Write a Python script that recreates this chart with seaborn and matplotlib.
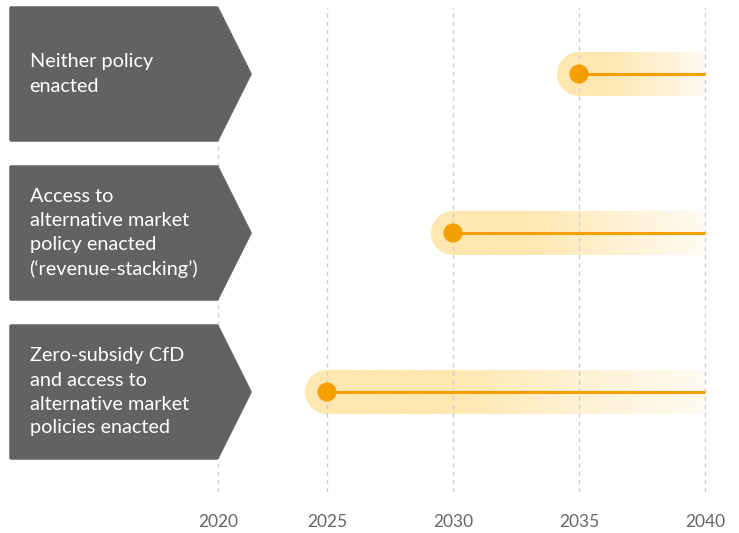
import numpy as np
import matplotlib
matplotlib.use("Agg")
import matplotlib.pyplot as plt
from matplotlib.patches import Polygon
from matplotlib.colors import to_rgb
import seaborn as sns
import pandas as pd

# 数据
scenarios = [
    "Neither policy\nenacted",
    "Access to\nalternative market\npolicy enacted\n(\u2018revenue-stacking\u2019)",
    "Zero-subsidy CfD\nand access to\nalternative market\npolicies enacted",
]
start_year = [2035, 2030, 2025]
end_year = 2040
tick_years = [2020, 2025, 2030, 2035, 2040]

sns.set_theme(style="white")
plt.rcParams["font.family"] = ["Lato", "DejaVu Sans"]

W, H = 739, 533
fig = plt.figure(figsize=(W / 100, H / 100), dpi=100)

# 像素布局
row_y = [74, 233, 392]
px_per_year = 25.2
x0_year = 2025 - 327 / px_per_year
x1_year = 2025 + (W - 327) / px_per_year
ax_top, ax_bot = 7, 492

ax = fig.add_axes([0, (H - ax_bot) / H, 1, (ax_bot - ax_top) / H])
ax.set_xlim(x0_year, x1_year)
ax.set_ylim(ax_bot, ax_top)

# 2020 刻度在图中并不等距
tick_pos = [x0_year + 218 / px_per_year] + tick_years[1:]
ax.set_xticks(tick_pos)
ax.set_xticklabels([str(t) for t in tick_years], fontsize=12.5, color="#666666")
ax.tick_params(axis="x", length=0, pad=15.5)
ax.set_yticks([])
for s in ax.spines.values():
    s.set_visible(False)
ax.grid(axis="x", color="#cccccc", linestyle=(0, (3, 3)), linewidth=1, zorder=1.5)
ax.grid(axis="y", visible=False)
ax.set_axisbelow(False)

orange = "#F5A000"
band_rgb = np.array(to_rgb("#FFE7B0"))
half_h = 22
r_year = half_h / px_per_year

for yc, sy in zip(row_y, start_year):
    # 渐变底带
    n = 300
    t = np.linspace(0, 1, n)
    alpha = np.clip(1 - (t - 0.35) / 0.65 * 0.85, 0.15, 1)
    img = np.zeros((2, n, 4))
    img[..., :3] = band_rgb
    img[..., 3] = alpha
    xl = sy - r_year
    im = ax.imshow(img, extent=[xl, end_year, yc + half_h, yc - half_h],
                   aspect="auto", interpolation="bilinear", zorder=0.3)
    ang = np.linspace(np.pi / 2, 3 * np.pi / 2, 40)
    verts = [(sy + r_year * np.cos(a), yc - half_h * np.sin(a)) for a in ang]
    verts += [(end_year, yc + half_h), (end_year, yc - half_h)]
    clip = Polygon(verts, closed=True, transform=ax.transData)
    im.set_clip_path(clip)

df = pd.DataFrame({"start": start_year, "y": row_y})
ax.hlines(df["y"], df["start"], end_year, color=orange, linewidth=2.2, zorder=3)
sns.scatterplot(data=df, x="start", y="y", s=190, color=orange,
                edgecolor="none", ax=ax, zorder=4, legend=False)
ax.set_xlim(x0_year, x1_year)
ax.set_ylim(ax_bot, ax_top)
ax.set_xlabel("")
ax.set_ylabel("")

# 左侧灰色标签
lab = fig.add_axes([0, 0, 1, 1], zorder=5)
lab.set_xlim(0, W)
lab.set_ylim(H, 0)
lab.axis("off")
lab.patch.set_alpha(0)
for yc, txt in zip(row_y, scenarios):
    pts = [(11, yc - 66), (217, yc - 66), (250, yc), (217, yc + 66), (11, yc + 66)]
    lab.add_patch(Polygon(pts, closed=True, facecolor="#626262",
                          edgecolor="#626262", linewidth=2.5, joinstyle="round"))
    lab.text(29.5, yc, txt, color="white", fontsize=14.3, ha="left", va="center",
             linespacing=1.5)

fig.savefig("out.png", dpi=100)
